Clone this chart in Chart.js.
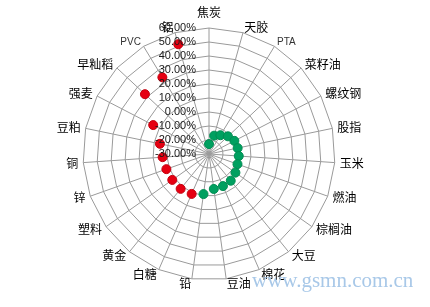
<!DOCTYPE html>
<html>
<head>
<meta charset="utf-8">
<script src="https://cdn.jsdelivr.net/npm/chart.js@4.4.0/dist/chart.umd.min.js"></script>
<style>
html, body { margin: 0; padding: 0; background: #fff; }
#wrap { position: relative; width: 430px; height: 307px; }
#watermark {
    position: absolute; left: 252px; top: 270px;
    font: 21px "Liberation Serif", serif; line-height: 21px;
    color: #a8c8e8; pointer-events: none; white-space: nowrap;
}
</style>
</head>
<body>
<div id="wrap">
    <canvas id="my-chart" width="430" height="307"></canvas>
    <div id="watermark">www.gsmn.com.cn</div>
</div>
<script>
const categories = ['焦炭','天胶','PTA','菜籽油','螺纹钢','股指','玉米','燃油','棕榈油','大豆','棉花','豆油',
                    '铅','白糖','黄金','塑料','锌','铜','豆粕','强麦','早籼稻','PVC','铝'];
const changes = [-0.229, -0.164, -0.143, -0.115, -0.096, -0.091, -0.087, -0.084, -0.069, -0.054, -0.050, -0.048,
                 -0.011, 0.011, 0.021, 0.021, 0.023, 0.032, 0.058, 0.149, 0.326, 0.341, 0.514];
const tickValues = [-0.3, -0.2, -0.1, 0, 0.1, 0.2, 0.3, 0.4, 0.5, 0.6];

const upColor = '#e60012';
const downColor = '#00a060';

function pct (v) {
    const s = (v * 100).toFixed(2);
    return (s === '-0.00' ? '0.00' : s) + '%';
}

// labels drawn Excel-style, positions taken from the radial scale
const excelLabels = {
    id: 'excelLabels',
    afterDatasetsDraw (chart) {
        const ctx = chart.ctx;
        const r = chart.scales.r;
        ctx.save();
        categories.forEach((name, i) => {
            const deg = i * 360 / categories.length;
            const top = deg < 5 || deg > 355;
            const p = r.getPointPosition(i, r.drawingArea + (top ? 10 : 5));
            const latin = /^[A-Z]+$/.test(name);
            ctx.font = latin ? '10px "Liberation Sans"' : '12px "Noto Sans CJK SC"';
            ctx.fillStyle = latin ? '#333' : '#000';
            if (top) {
                ctx.textAlign = 'center';
                ctx.textBaseline = 'bottom';
            } else {
                ctx.textAlign = deg < 180 ? 'left' : 'right';
                ctx.textBaseline = 'middle';
            }
            ctx.fillText(name, p.x, p.y);
        });
        ctx.font = '11px "Liberation Sans"';
        ctx.fillStyle = '#1a1a1a';
        ctx.textAlign = 'right';
        ctx.textBaseline = 'middle';
        for (const v of tickValues) {
            const y = r.yCenter - r.getDistanceFromCenterForValue(v);
            ctx.fillText(pct(v), r.xCenter - 13, y);
        }
        ctx.restore();
    }
};

const myChart = new Chart(document.getElementById('my-chart'), {
    type: 'radar',
    data: {
        labels: categories,
        datasets: [{
            data: changes,
            showLine: false,
            fill: false,
            borderWidth: 0,
            pointRadius: 4.5,
            pointBorderWidth: 1,
            pointBackgroundColor: changes.map(v => v >= 0 ? upColor : downColor),
            pointBorderColor: changes.map(v => v >= 0 ? '#c4000f' : '#008c52')
        }]
    },
    options: {
        responsive: false,
        animation: false,
        layout: { padding: { top: 28, bottom: 27, left: 0, right: 12 } },
        plugins: {
            legend: { display: false },
            tooltip: { enabled: false }
        },
        scales: {
            r: {
                min: -0.3,
                max: 0.6,
                ticks: { stepSize: 0.1, display: false },
                pointLabels: { display: false },
                grid: { color: '#9a9a9a', lineWidth: 1 },
                angleLines: { color: '#9a9a9a', lineWidth: 1 }
            }
        }
    },
    plugins: [excelLabels]
});
</script>
</body>
</html>
